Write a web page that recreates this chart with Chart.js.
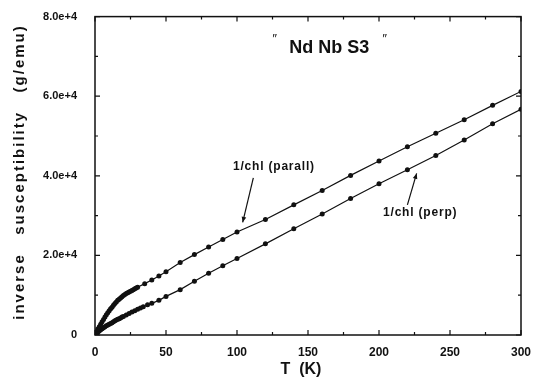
<!DOCTYPE html>
<html lang="en">
<head>
<meta charset="UTF-8">
<title>Nd Nb S3 inverse susceptibility</title>
<script src="https://cdn.jsdelivr.net/npm/chart.js"></script>
<style>
    body { margin: 0; background: #fff; }
    canvas { display: block; }
</style>
</head>
<body>
<canvas id="chart" width="534" height="384"></canvas>
<script>
    // 1/chi parallel
    const tempParall = [1, 2, 3, 4, 5, 6, 7, 8, 9, 10, 11, 12, 13, 14, 15, 16, 17, 18, 19, 20,
        21, 22, 23, 24, 25, 26, 27, 28, 29, 30, 35, 40, 45, 50, 60, 70, 80, 90, 100,
        120, 140, 160, 180, 200, 220, 240, 260, 280, 300];
    const chiParall = [800, 1500, 2100, 2700, 3300, 3900, 4500, 5100, 5600, 6100, 6600, 7000, 7500, 7900, 8300, 8700, 9000, 9300, 9600, 9900,
        10200, 10400, 10600, 10800, 11000, 11200, 11400, 11600, 11800, 12000, 12900, 13800, 14800, 15900, 18200, 20200, 22100, 24000, 25900,
        29000, 32700, 36300, 40100, 43700, 47300, 50700, 54100, 57700, 61200];

    // 1/chi perpendicular
    const tempPerp = [1, 2, 3, 4, 5, 6, 7, 8, 9, 10, 11, 12, 13, 14, 15, 16, 17, 18, 19, 20,
        22, 24, 26, 28, 30, 32, 34, 37, 40, 45, 50, 60, 70, 80, 90, 100,
        120, 140, 160, 180, 200, 220, 240, 260, 280, 300];
    const chiPerp = [300, 700, 1000, 1300, 1600, 1850, 2100, 2300, 2500, 2700, 2900, 3100, 3300, 3550, 3750, 3950, 4100, 4300, 4500, 4650,
        5000, 5400, 5750, 6100, 6450, 6800, 7100, 7600, 7950, 8700, 9700, 11400, 13500, 15500, 17400, 19200,
        22900, 26700, 30400, 34300, 38000, 41500, 45100, 49000, 53100, 56700];

    const xTicks = [0, 50, 100, 150, 200, 250, 300];
    const yTicks = [0, 20000, 40000, 60000, 80000];
    const yTickLabels = ['0', '2.0e+4', '4.0e+4', '6.0e+4', '8.0e+4'];

    const toPoints = (xs, ys) => xs.map((x, i) => ({ x: x, y: ys[i] }));

    // frame, inward ticks, titles and labels
    const decor = {
        id: 'decor',
        afterDraw(chart) {
            const ctx = chart.ctx;
            const a = chart.chartArea;
            const xs = chart.scales.x, ys = chart.scales.y;
            ctx.save();
            ctx.strokeStyle = '#111';
            ctx.lineWidth = 1.5;
            ctx.strokeRect(a.left, a.top, a.right - a.left, a.bottom - a.top);
            ctx.lineWidth = 1.2;
            for (let v = 0; v <= 300; v += 25) {
                const px = xs.getPixelForValue(v);
                const len = v % 50 === 0 ? 5 : 3;
                ctx.beginPath();
                ctx.moveTo(px, a.bottom); ctx.lineTo(px, a.bottom - len);
                ctx.moveTo(px, a.top); ctx.lineTo(px, a.top + len);
                ctx.stroke();
            }
            for (let v = 0; v <= 80000; v += 10000) {
                const py = ys.getPixelForValue(v);
                const len = v % 20000 === 0 ? 5 : 3;
                ctx.beginPath();
                ctx.moveTo(a.left, py); ctx.lineTo(a.left + len, py);
                ctx.moveTo(a.right, py); ctx.lineTo(a.right - len, py);
                ctx.stroke();
            }

            ctx.fillStyle = '#111';
            ctx.textAlign = 'center';
            ctx.textBaseline = 'middle';

            // axis titles
            ctx.font = 'bold 16px "Liberation Sans", Arial, sans-serif';
            ctx.fillText('T  (K)', 301, 370);
            ctx.save();
            ctx.translate(20, 172);
            ctx.rotate(-Math.PI / 2);
            ctx.font = 'bold 15px "Liberation Sans", Arial, sans-serif';
            ctx.letterSpacing = '2px';
            ctx.fillText('inverse   susceptibility   (g/emu)', 0, 0);
            ctx.restore();

            // title
            ctx.font = 'bold 18px "Liberation Sans", Arial, sans-serif';
            ctx.fillText('Nd Nb S3', xs.getPixelForValue(165), ys.getPixelForValue(72000));
            ctx.font = 'italic 13px "Liberation Sans", Arial, sans-serif';
            ctx.fillText('\u2033', 274, 39);
            ctx.fillText('\u2033', 384, 39);

            // annotations
            ctx.font = 'bold 12px "Liberation Sans", Arial, sans-serif';
            ctx.letterSpacing = '0.8px';
            ctx.fillText('1/chl (parall)', xs.getPixelForValue(126), ys.getPixelForValue(42300));
            ctx.fillText('1/chl (perp)', xs.getPixelForValue(229), ys.getPixelForValue(30700));
            ctx.letterSpacing = '0px';

            const arrow = (x1, y1, x2, y2) => {
                const p1 = [xs.getPixelForValue(x1), ys.getPixelForValue(y1)];
                const p2 = [xs.getPixelForValue(x2), ys.getPixelForValue(y2)];
                const ang = Math.atan2(p2[1] - p1[1], p2[0] - p1[0]);
                ctx.lineWidth = 1.2;
                ctx.beginPath();
                ctx.moveTo(p1[0], p1[1]); ctx.lineTo(p2[0], p2[1]);
                ctx.stroke();
                ctx.beginPath();
                ctx.moveTo(p2[0], p2[1]);
                ctx.lineTo(p2[0] - 6 * Math.cos(ang - 0.4), p2[1] - 6 * Math.sin(ang - 0.4));
                ctx.lineTo(p2[0] - 6 * Math.cos(ang + 0.4), p2[1] - 6 * Math.sin(ang + 0.4));
                ctx.closePath();
                ctx.fill();
            };
            arrow(111.5, 39500, 104, 28300);
            arrow(220, 32700, 226.5, 40600);
            ctx.restore();
        }
    };

    const ctx = document.getElementById('chart').getContext('2d');
    const chart = new Chart(ctx, {
        type: 'line',
        data: {
            datasets: [{
                label: '1/chi (parall)',
                data: toPoints(tempParall, chiParall),
                borderColor: '#111',
                backgroundColor: '#111',
                borderWidth: 1.2,
                pointRadius: 2.5,
                pointBorderWidth: 0,
                tension: 0
            }, {
                label: '1/chi (perp)',
                data: toPoints(tempPerp, chiPerp),
                borderColor: '#111',
                backgroundColor: '#111',
                borderWidth: 1.2,
                pointRadius: 2.5,
                pointBorderWidth: 0,
                tension: 0
            }]
        },
        options: {
            responsive: false,
            animation: false,
            layout: { padding: { top: 15, right: 13, left: 0, bottom: 0 } },
            plugins: { legend: { display: false }, tooltip: { enabled: false } },
            scales: {
                x: {
                    type: 'linear',
                    min: 0,
                    max: 300,
                    afterBuildTicks: s => { s.ticks = xTicks.map(v => ({ value: v })); },
                    afterFit: s => { s.height = 49; },
                    grid: { display: false },
                    border: { display: false },
                    ticks: {
                        color: '#111',
                        padding: 2,
                        maxRotation: 0,
                        font: { family: '"Liberation Sans", Arial', size: 12, weight: 'bold' }
                    }
                },
                y: {
                    type: 'linear',
                    min: 0,
                    max: 80000,
                    afterBuildTicks: s => { s.ticks = yTicks.map(v => ({ value: v })); },
                    afterFit: s => { s.width = 95; },
                    grid: { display: false },
                    border: { display: false },
                    ticks: {
                        color: '#111',
                        padding: 10,
                        callback: v => yTickLabels[yTicks.indexOf(v)],
                        font: { family: '"Liberation Sans", Arial', size: 11, weight: 'bold' }
                    }
                }
            }
        },
        plugins: [decor]
    });
</script>
</body>
</html>
